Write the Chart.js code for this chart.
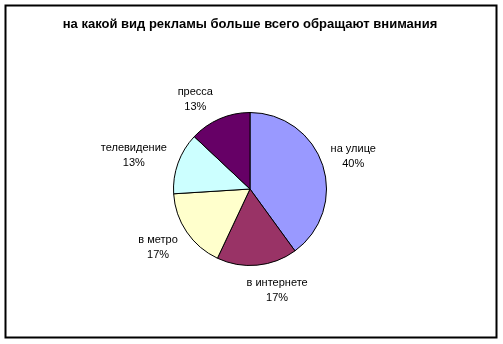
<!DOCTYPE html>
<html>
<head>
<meta charset="utf-8">
<script src="https://cdn.jsdelivr.net/npm/chart.js@4/dist/chart.umd.min.js"></script>
<style>
  body { margin: 0; background: #fff; }
  #wrap { position: relative; width: 503px; height: 344px; }
</style>
</head>
<body>
<div id="wrap"><canvas id="grafico" width="503" height="344"></canvas></div>
<script>
// datos
const titulo = 'на какой вид рекламы больше всего обращают внимания';
const categorias = ['на улице', 'в интернете', 'в метро', 'телевидение', 'пресса'];
const valores = [40, 17, 17, 13, 13];
const etiquetasPct = ['40%', '17%', '17%', '13%', '13%'];
const colores = ['#9999FF', '#993366', '#FFFFCC', '#CCFFFF', '#660066'];

// marco negro alrededor del grafico
const marco = {
  id: 'marco',
  afterDraw(chart) {
    const ctx = chart.ctx;
    ctx.save();
    ctx.strokeStyle = '#000';
    ctx.lineWidth = 2;
    ctx.strokeRect(5.5, 5.5, 491, 332);
    ctx.restore();
  }
};

// etiquetas fuera de cada porcion, como en Excel
const etiquetas = {
  id: 'etiquetas',
  afterDatasetsDraw(chart, args, opts) {
    const ctx = chart.ctx;
    const arcos = chart.getDatasetMeta(0).data;
    ctx.save();
    ctx.font = '11px "Liberation Sans", Arial, sans-serif';
    ctx.fillStyle = '#000';
    ctx.textAlign = 'center';
    ctx.textBaseline = 'middle';
    arcos.forEach((arco, i) => {
      const p = arco.getProps(['x', 'y', 'startAngle', 'endAngle', 'outerRadius'], true);
      const medio = (p.startAngle + p.endAngle) / 2;
      const r = p.outerRadius + opts.distancia;
      const ajuste = opts.ajustes[i] || [0, 0];
      const cx = p.x + Math.cos(medio) * r + ajuste[0];
      const cy = p.y + Math.sin(medio) * r + ajuste[1];
      ctx.fillText(categorias[i], cx, cy - 7);
      ctx.fillText(etiquetasPct[i], cx, cy + 8);
    });
    ctx.restore();
  }
};

let myChart = new Chart(document.getElementById('grafico'), {
  type: 'pie',
  data: {
    labels: categorias,
    datasets: [{
      data: valores,
      backgroundColor: colores,
      borderColor: '#000',
      borderWidth: 1
    }]
  },
  options: {
    responsive: false,
    animation: false,
    layout: { padding: { top: 0, bottom: 78, left: 0, right: 3 } },
    plugins: {
      legend: { display: false },
      tooltip: { enabled: false },
      title: {
        display: true,
        text: titulo,
        color: '#000',
        font: { family: '"Liberation Sans", Arial, sans-serif', size: 13, weight: 'bold' },
        padding: { top: 17, bottom: 79.4 }
      },
      etiquetas: {
        distancia: 31,
        ajustes: [[1, 0], [17, -6], [-3, -2], [-15, 2], [-12, 9]]
      }
    }
  },
  plugins: [marco, etiquetas]
});
</script>
</body>
</html>
